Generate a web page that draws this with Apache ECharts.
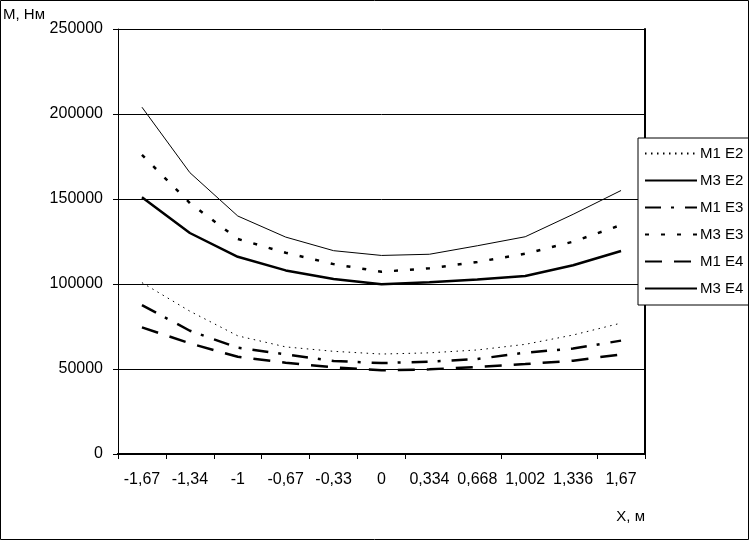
<!DOCTYPE html>
<html>
<head>
<meta charset="utf-8">
<script src="https://cdn.jsdelivr.net/npm/echarts@6/dist/echarts.min.js"></script>
<style>
html,body{margin:0;padding:0;background:#fff;}
#chart{width:749px;height:540px;}
</style>
</head>
<body>
<div id="chart"></div>
<script>
// categories (X, м)
var categories = ['-1,67','-1,34','-1','-0,67','-0,33','0','0,334','0,668','1,002','1,336','1,67'];
// series values (M, Нм)
var m1e2 = [100800, 84000, 69500, 63000, 60400, 58800, 59500, 61200, 64500, 70000, 77000];
var m3e2 = [204000, 165500, 140000, 127600, 119600, 116800, 117500, 122500, 127800, 141000, 155000];
var m1e3 = [87600, 72500, 62500, 58600, 54700, 53500, 54300, 55900, 59600, 62000, 66700];
var m3e3 = [176000, 147600, 126500, 118400, 111700, 107200, 109200, 113000, 117800, 124900, 134700];
var m1e4 = [74500, 65100, 57200, 53700, 51000, 49200, 49800, 51200, 52900, 54900, 58600];
var m3e4 = [151000, 130000, 116000, 108000, 103000, 99800, 101000, 102700, 104700, 111000, 119400];
var seriesNames = ['M1 E2','M3 E2','M1 E3','M3 E3','M1 E4','M3 E4'];
var yTicks = [0, 50000, 100000, 150000, 200000, 250000];

var FONT = 'Liberation Sans';
var shownTicks = [0,1,2,3,4,5,6,8,10];

var chart = echarts.init(document.getElementById('chart'), null, {renderer:'canvas'});

function line(name, data, width, type){
  return {
    name: name, type: 'line', data: data, symbol: 'none', smooth: false,
    xAxisIndex: 0, yAxisIndex: 0,
    lineStyle: {color: '#000', width: width, type: type, cap: 'butt'},
    itemStyle: {color: '#000'},
    emphasis: {disabled: true},
    animation: false
  };
}

var option = {
  backgroundColor: '#fff',
  animation: false,
  title: [
    {text: 'M, Нм', left: 3, top: 7, padding: 0, textStyle: {fontFamily: FONT, fontSize: 15, fontWeight: 'normal', color: '#000'}},
    {text: 'X, м', right: 104, top: 509, padding: 0, textStyle: {fontFamily: FONT, fontSize: 15, fontWeight: 'normal', color: '#000'}}
  ],
  graphic: [
    {type: 'rect', shape: {x: 0.5, y: 0.5, width: 748, height: 539}, style: {fill: 'none', stroke: '#000', lineWidth: 1}, silent: true, z: 100}
  ],
  grid: {left: 118, top: 29, right: 104, bottom: 86, containLabel: false},
  legend: {
    orient: 'vertical',
    left: 638, top: 138,
    padding: [8, 20, 9, 6],
    itemWidth: 52, itemHeight: 14, itemGap: 12,
    backgroundColor: '#fff',
    borderColor: '#000', borderWidth: 1,
    itemStyle: {color: 'rgba(0,0,0,0)', borderWidth: 0, opacity: 0},
    textStyle: {fontFamily: FONT, fontSize: 15, color: '#000', padding: [0,0,0,-2]},
    data: seriesNames
  },
  xAxis: [
    {
      type: 'category', data: categories, position: 'bottom', boundaryGap: true,
      axisLine: {show: true, onZero: false, lineStyle: {color: '#000', width: 2}},
      axisTick: {show: true, inside: false, length: 5, lineStyle: {color: '#000', width: 1},
        interval: function(i){ return shownTicks.indexOf(i) >= 0; }},
      axisLabel: {interval: 0, margin: 18, fontFamily: FONT, fontSize: 16, color: '#000'},
      splitLine: {show: false}
    },
    {
      type: 'category', data: categories, position: 'top', boundaryGap: true,
      axisLine: {show: true, lineStyle: {color: '#000', width: 2}},
      axisTick: {show: false}, axisLabel: {show: false}, splitLine: {show: false}
    }
  ],
  yAxis: [
    {
      type: 'value', min: 0, max: 250000, interval: 50000, position: 'left',
      axisLine: {show: true, lineStyle: {color: '#000', width: 1}},
      axisTick: {show: true, inside: false, length: 5, lineStyle: {color: '#000', width: 1}},
      axisLabel: {margin: 15, fontFamily: FONT, fontSize: 16, color: '#000',
        formatter: function(v){ return yTicks.indexOf(v) >= 0 ? String(v) : ''; }},
      splitLine: {show: true, lineStyle: {color: '#000', width: 1}}
    },
    {
      type: 'value', min: 0, max: 250000, interval: 50000, position: 'right',
      axisLine: {show: true, lineStyle: {color: '#000', width: 2}},
      axisTick: {show: false}, axisLabel: {show: false}, splitLine: {show: false}
    }
  ],
  series: [
    line(seriesNames[0], m1e2, 1, [1.5, 4.5]),
    line(seriesNames[1], m3e2, 1, 'solid'),
    line(seriesNames[2], m1e3, 2.5, [16, 10, 3, 11]),
    line(seriesNames[3], m3e3, 2.5, [4, 12]),
    line(seriesNames[4], m1e4, 2.5, [17, 12]),
    line(seriesNames[5], m3e4, 2.5, 'solid')
  ]
};
chart.setOption(option);
</script>
</body>
</html>
